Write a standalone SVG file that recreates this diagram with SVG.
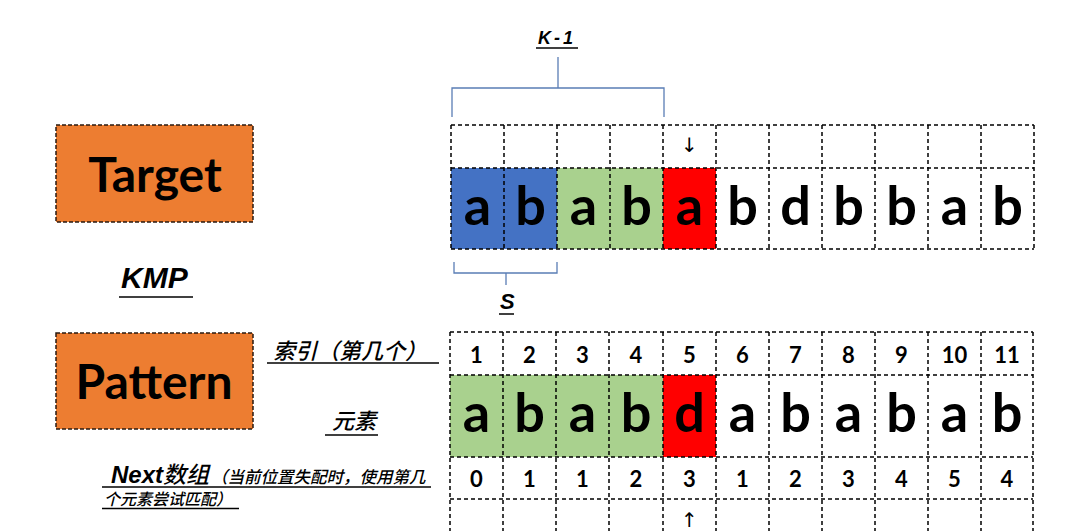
<svg xmlns="http://www.w3.org/2000/svg" width="1065" height="531" viewBox="0 0 1065 531">
<style>
.grid{fill:none;stroke:#000;stroke-width:1.5;stroke-dasharray:4 3}
.box{fill:#ED7D31;stroke:#2a1a10;stroke-width:1.5;stroke-dasharray:4 2}
.big{font-family:Lato,"Open Sans",sans-serif;font-weight:700;font-size:54px;fill:#000;text-anchor:middle}
.num{font-family:Lato,"Open Sans",sans-serif;font-weight:700;font-size:22px;fill:#000;text-anchor:middle}
.title{font-family:Lato,"Open Sans",sans-serif;font-weight:700;font-size:48px;fill:#000;text-anchor:middle}
.lbl{font-family:"Liberation Sans","Noto Sans CJK SC",sans-serif;font-weight:bold;font-style:italic;fill:#000}
.cjk{font-family:"Noto Sans CJK SC",sans-serif;font-weight:500;font-style:italic;fill:#000}
.ul{stroke:#000;stroke-width:1.5}
.br{fill:none;stroke:#5A7DB5;stroke-width:1.3}
.arr{font-family:"DejaVu Sans",sans-serif;font-size:20px;fill:#000;text-anchor:middle}
</style>

<g id="target-box">
<rect class="box" x="56" y="125" width="197" height="97"/>
<text class="title" x="155" y="192">Target</text>
</g>

<g id="pattern-box">
<rect class="box" x="56" y="333" width="197" height="96"/>
<text class="title" x="154" y="399">Pattern</text>
</g>

<g id="kmp-label">
<text class="lbl" x="121" y="288" font-size="30">KMP</text>
<line class="ul" x1="119" y1="297" x2="193" y2="297"/>
</g>

<g id="k1-label">
<text class="lbl" x="538" y="44" font-size="18" letter-spacing="3">K-1</text>
<line class="ul" x1="536" y1="48" x2="578" y2="48"/>
</g>

<g id="s-label">
<text class="lbl" x="500" y="309" font-size="22">S</text>
<line class="ul" x1="499" y1="314" x2="514" y2="314"/>
</g>

<g id="index-label">
<text class="cjk" x="273" y="359" font-size="22">索引（第几个）</text>
<line class="ul" x1="267" y1="363" x2="439" y2="363"/>
</g>

<g id="elem-label">
<text class="cjk" x="332" y="429" font-size="22">元素</text>
<line class="ul" x1="325" y1="435" x2="378" y2="435"/>
</g>

<g id="next-label">
<text class="lbl" x="111" y="483" font-size="24">Next<tspan class="cjk" font-size="23">数组</tspan><tspan class="cjk" font-size="16.5" dx="2">（当前位置失配时，使用第几</tspan></text>
<line class="ul" x1="102" y1="487" x2="431" y2="487"/>
<text class="cjk" x="104" y="505" font-size="16">个元素尝试匹配）</text>
<line class="ul" x1="102" y1="508.5" x2="239" y2="508.5"/>
</g>

<g id="connectors">
<path class="br" d="M558 57 V88 M452 117 V88 H664 V117"/>
<path class="br" d="M454 262 V273 H557 V262 M506 273 V285"/>
</g>

<g id="target-array">
<rect x="451" y="168" width="106" height="81" fill="#4472C4"/>
<rect x="557" y="168" width="106" height="81" fill="#A9D18E"/>
<rect x="663" y="168" width="53" height="81" fill="#FF0000"/>
<path class="grid" d="M451 125 H1034 M451 168 H1034 M451 249 H1034
M451 125 V249 M504 125 V249 M557 125 V249 M610 125 V249 M663 125 V249 M716 125 V249 M769 125 V249 M822 125 V249 M875 125 V249 M928 125 V249 M981 125 V249 M1034 125 V249"/>
<text class="arr" x="689.5" y="152">↓</text>
<g class="big">
<text x="477.5" y="225">a</text><text x="530.5" y="225">b</text><text x="583.5" y="225">a</text><text x="636.5" y="225">b</text><text x="689.5" y="225">a</text><text x="742.5" y="225">b</text><text x="795.5" y="225">d</text><text x="848.5" y="225">b</text><text x="901.5" y="225">b</text><text x="954.5" y="225">a</text><text x="1007.5" y="225">b</text>
</g>
</g>

<g id="pattern-array">
<rect x="450" y="375" width="213" height="82" fill="#A9D18E"/>
<rect x="663" y="375" width="53" height="82" fill="#FF0000"/>
<path class="grid" d="M450 332 H1033 M450 375 H1033 M450 457 H1033 M450 499 H1033
M450 332 V540 M503 332 V540 M556 332 V540 M609 332 V540 M663 332 V540 M716 332 V540 M769 332 V540 M822 332 V540 M875 332 V540 M928 332 V540 M981 332 V540 M1033 332 V540"/>
<g class="num">
<text x="476.5" y="363">1</text><text x="529.5" y="363">2</text><text x="582.5" y="363">3</text><text x="636" y="363">4</text><text x="689.5" y="363">5</text><text x="742.5" y="363">6</text><text x="795.5" y="363">7</text><text x="848.5" y="363">8</text><text x="901.5" y="363">9</text><text x="954.5" y="363">10</text><text x="1007" y="363">11</text>
</g>
<g class="big">
<text x="476.5" y="432">a</text><text x="529.5" y="432">b</text><text x="582.5" y="432">a</text><text x="636" y="432">b</text><text x="689.5" y="432">d</text><text x="742.5" y="432">a</text><text x="795.5" y="432">b</text><text x="848.5" y="432">a</text><text x="901.5" y="432">b</text><text x="954.5" y="432">a</text><text x="1007" y="432">b</text>
</g>
<g class="num">
<text x="476.5" y="487">0</text><text x="529.5" y="487">1</text><text x="582.5" y="487">1</text><text x="636" y="487">2</text><text x="689.5" y="487">3</text><text x="742.5" y="487">1</text><text x="795.5" y="487">2</text><text x="848.5" y="487">3</text><text x="901.5" y="487">4</text><text x="954.5" y="487">5</text><text x="1007" y="487">4</text>
</g>
<text class="arr" x="689.5" y="527">↑</text>
</g>
</svg>
